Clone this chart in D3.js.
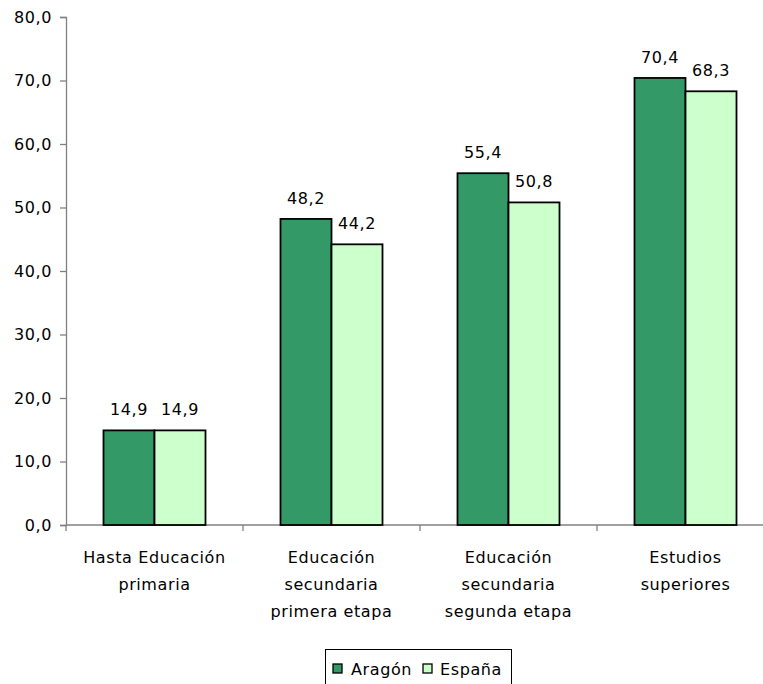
<!DOCTYPE html>
<html><head><meta charset="utf-8">
<script src="https://cdn.jsdelivr.net/npm/d3@7"></script>
<style>body{margin:0;background:#fff}svg{display:block}text{font-family:"DejaVu Sans",sans-serif;fill:#000;letter-spacing:0.6px}</style>
</head><body>
<svg id="c" width="763" height="684"></svg>
<script>
const categories = [["Hasta Educación","primaria"],["Educación","secundaria","primera etapa"],["Educación","secundaria","segunda etapa"],["Estudios","superiores"]];
const seriesNames = ["Aragón","España"];
const aragon = [14.9,48.2,55.4,70.4];
const espana = [14.9,44.2,50.8,68.3];
const yTicks = [0,10,20,30,40,50,60,70,80];
const colors = ["#339966","#CCFFCC"];

const svg = d3.select("#c");
const y = d3.scaleLinear().domain([0,80]).range([525,17]);
const x = d3.scaleBand().domain(d3.range(categories.length)).range([66,774]).paddingInner(0).paddingOuter(0);
const inner = d3.scaleBand().domain([0,1]).range([0,102]);
const fmt = v => d3.format(".1f")(v).replace(".",",");
const axisColor = "#808080";
const FS = 16;

// y axis
const yAx = svg.append("g").attr("transform","translate(66,0)")
  .call(d3.axisLeft(y).tickValues(yTicks).tickSize(6).tickPadding(8).tickFormat(fmt));
yAx.select(".domain").attr("stroke",axisColor).attr("stroke-width",1.3);
yAx.selectAll(".tick line").attr("stroke",axisColor).attr("stroke-width",1.3);
yAx.selectAll(".tick text").attr("font-size",FS).attr("font-family","DejaVu Sans");

// x axis line & ticks
const xAx = svg.append("g").attr("transform","translate(0,525)");
xAx.append("line").attr("x1",66).attr("x2",774).attr("stroke",axisColor).attr("stroke-width",1.3);
xAx.selectAll(".xt").data(d3.range(categories.length+1)).enter().append("line")
  .attr("x1",i=>66+i*x.bandwidth()).attr("x2",i=>66+i*x.bandwidth())
  .attr("y1",0).attr("y2",6).attr("stroke",axisColor).attr("stroke-width",1.3);

// bars
const series = [aragon, espana];
const offset = (x.bandwidth()-102)/2;
series.forEach((vals,s)=>{
  const g = svg.append("g");
  g.selectAll("rect").data(vals).enter().append("rect")
    .attr("x",(d,i)=>x(i)+offset+inner(s))
    .attr("y",d=>y(d))
    .attr("width",inner.bandwidth())
    .attr("height",d=>y(0)-y(d))
    .attr("fill",colors[s]).attr("stroke","#000").attr("stroke-width",1.8);
  g.selectAll("text").data(vals).enter().append("text")
    .attr("x",(d,i)=>x(i)+offset+inner(s)+inner.bandwidth()/2)
    .attr("y",d=>y(d)-15)
    .attr("text-anchor","middle").attr("font-size",FS)
    .text(fmt);
});

// category labels
categories.forEach((lines,i)=>{
  const t = svg.append("text").attr("text-anchor","middle").attr("font-size",FS);
  lines.forEach((l,k)=>{
    t.append("tspan").attr("x",x(i)+x.bandwidth()/2).attr("y",563+k*27).text(l);
  });
});

// legend
const lg = svg.append("g");
lg.append("rect").attr("x",325.5).attr("y",649.5).attr("width",186).attr("height",50)
  .attr("fill","#fff").attr("stroke","#000").attr("stroke-width",1);
const legX = [333,423], legTX=[351,440];
seriesNames.forEach((n,s)=>{
  lg.append("rect").attr("x",legX[s]).attr("y",664).attr("width",9).attr("height",9)
    .attr("fill",colors[s]).attr("stroke","#000").attr("stroke-width",1.3);
  lg.append("text").attr("x",legTX[s]).attr("y",675).attr("font-size",FS).text(n);
});
</script>
</body></html>
